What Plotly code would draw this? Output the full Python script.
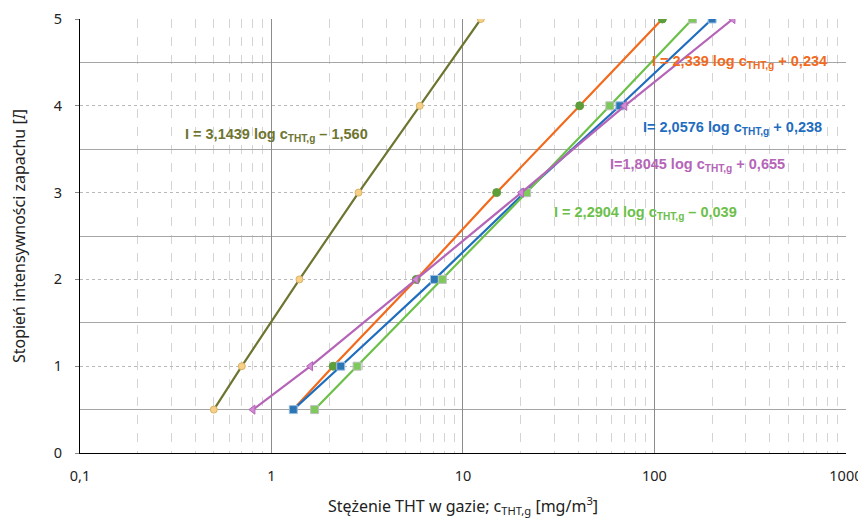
import numpy as np
import plotly.graph_objects as go

levels = [0.5, 1, 2, 3, 4, 5]
c_olive = [0.5, 0.7, 1.4, 2.85, 5.95, 12.4]
c_orange = [1.3, 2.1, 5.7, 15.0, 40.7, 110]
c_blue = [1.3, 2.3, 7.1, 21.0, 66, 200]
c_green = [1.68, 2.8, 7.8, 21.5, 58.5, 158]
c_pink = [0.8, 1.6, 5.7, 20.2, 70, 257]

x_tickvals = [0.1, 1, 10, 100, 1000]
x_ticktext = ["0,1", "1", "10", "100", "1000"]

fig = go.Figure()

def add(xs, name, lc, sym, fill, mline, size=7):
    fig.add_trace(go.Scatter(x=xs, y=levels, mode="lines+markers", name=name,
                             line=dict(color=lc, width=2.2),
                             marker=dict(symbol=sym, color=fill, size=size,
                                         line=dict(color=mline, width=1))))

add(c_olive, "olive", "#6E7530", "circle", "#F7CF85", "#D9B36A", 7)
add(c_orange, "orange", "#F26A1B", "circle", "#5E9E3A", "#5E9E3A", 8)
add(c_blue, "blue", "#1F6DBF", "square", "#2E75B6", "#9DC3E6", 8)
add(c_green, "green", "#6CC04A", "square", "#7DC95C", "#BFBFBF", 8)
add(c_pink, "pink", "#B565B7", "triangle-left", "#D38AD4", "#B565B7", 8)

ann_font = dict(family="Liberation Sans, Arial", size=14.5)
anns = [
    ("I = 3,1439 log c<sub>THT,g</sub> – 1,560", -0.463, 3.66, "#6E7530"),
    ("I = 2,339 log c<sub>THT,g</sub> + 0,234", 1.976, 4.50, "#F26A1B"),
    ("I= 2,0576 log c<sub>THT,g</sub> + 0,238", 1.929, 3.75, "#1F6DBF"),
    ("I=1,8045 log c<sub>THT,g</sub> + 0,655", 1.756, 3.32, "#B565B7"),
    ("I = 2,2904 log c<sub>THT,g</sub> – 0,039", 1.464, 2.76, "#6CC04A"),
]
for t, ax, ay, col in anns:
    fig.add_annotation(text="<b>" + t + "</b>", x=ax, y=ay, xref="x", yref="y",
                       xanchor="left", yanchor="middle", showarrow=False,
                       font=dict(color=col, **ann_font))

fig.update_layout(
    width=858, height=513,
    margin=dict(l=72, r=20, t=11, b=68, autoexpand=False),
    plot_bgcolor="white", paper_bgcolor="white",
    showlegend=False,
    font=dict(family="Noto Sans, Open Sans", size=14.5, color="#222"),
)
fig.update_xaxes(type="log", range=[-1, 3.0005], automargin=False,
                 tickvals=x_tickvals, ticktext=x_ticktext, ticklabeloverflow="allow",
                 ticklabelstandoff=10,
                 showgrid=True, gridcolor="#8C8C8C", gridwidth=1,
                 minor=dict(showgrid=True, gridcolor="#D4D4D4", griddash="dash",
                            tickvals=[m * 10 ** e for e in range(-1, 3) for m in range(2, 10)]),
                 showline=True, linecolor="black", linewidth=1,
                 ticks="", zeroline=False,
                 title=dict(text="Stężenie THT w gazie; c<sub>THT,g</sub> [mg/m<sup>3</sup>]",
                            font=dict(size=16), standoff=16))
fig.update_yaxes(range=[0, 5], dtick=1, automargin=False,
                 showgrid=True, gridcolor="#B8B8B8", griddash="dot", gridwidth=1,
                 minor=dict(showgrid=True, gridcolor="#A6A6A6", griddash="solid", dtick=0.5),
                 showline=True, linecolor="black", linewidth=1,
                 ticks="outside", ticklen=4, tickcolor="#888", zeroline=False,
                 ticklabelstandoff=10,
                 title=dict(text="Stopień intensywności zapachu [<i>I</i>]",
                            font=dict(size=16), standoff=26))

fig.write_html("out.html")
